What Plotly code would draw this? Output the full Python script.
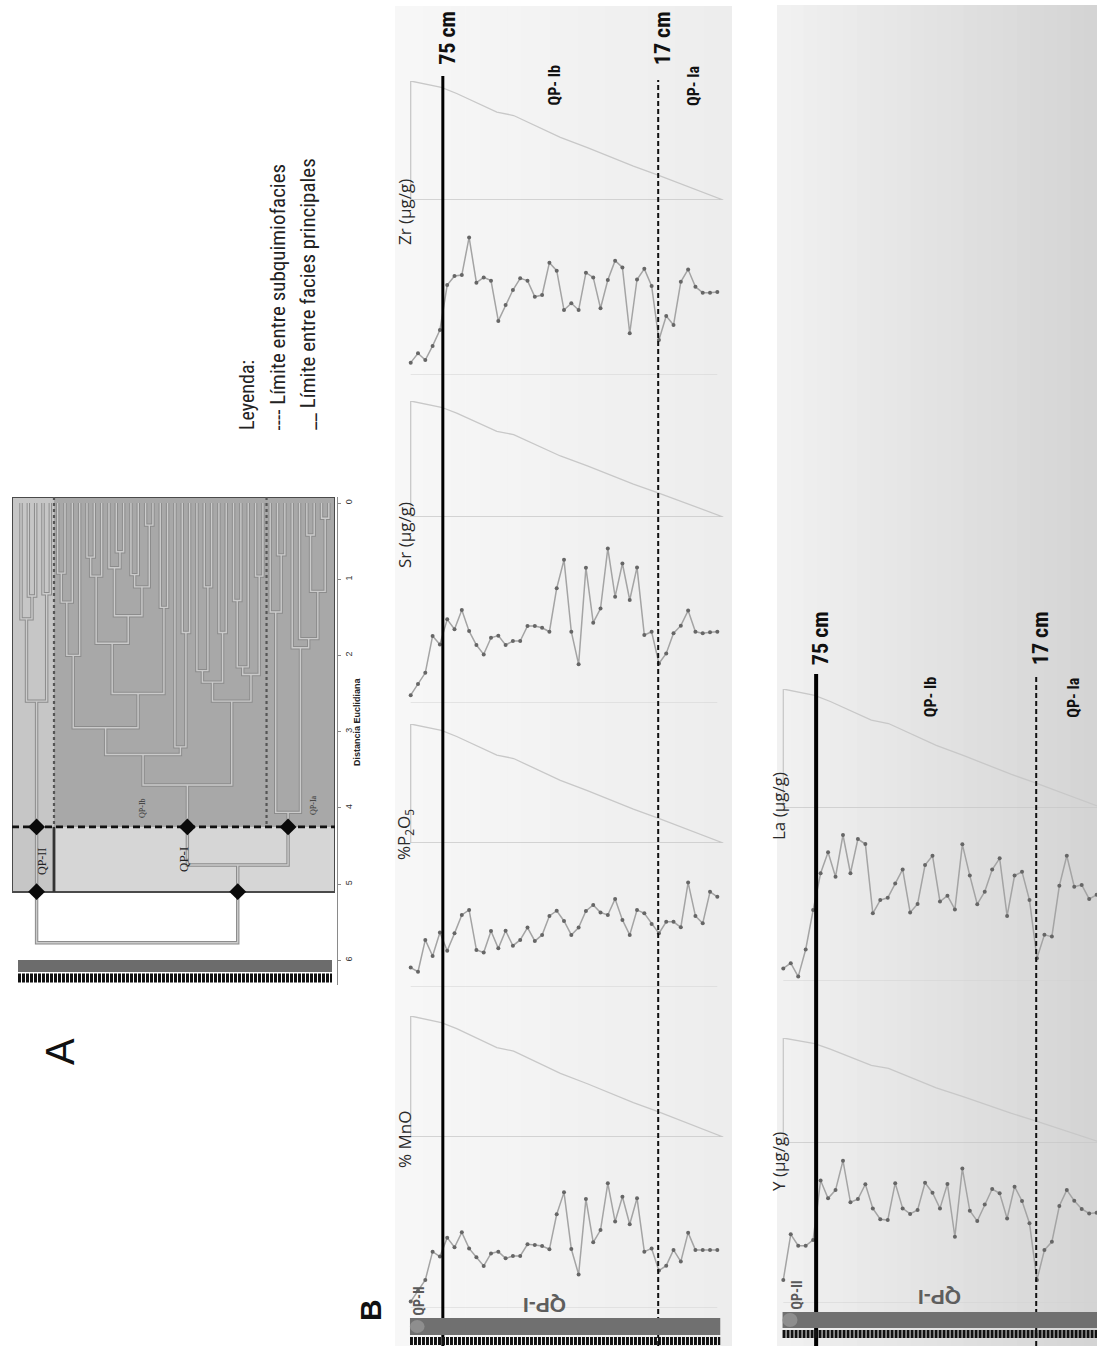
import plotly.graph_objects as go

W, H = 1097, 1348

# ----------------------------- data -----------------------------
sample = list(range(43))   # sample order along the core (base -> top)

zr = [4.2, 7.4, 5.1, 9.9, 15.3, 30.6, 33.7, 34.0, 46.8, 31.4, 33.2, 32.1, 18.4, 23.8, 28.9,
      32.9, 32.1, 26.6, 27.2, 38.2, 35.5, 22.1, 24.4, 22.1, 34.8, 33.2, 22.7, 32.3, 38.9, 36.6,
      14.2, 32.5, 36.1, 30.3, 11.9, 20.1, 17.0, 31.7, 35.9, 30.0, 28.0, 28.0, 28.2]
sr = [2.6, 6.3, 10.0, 22.2, 19.4, 27.7, 24.4, 30.8, 23.8, 19.2, 16.1, 21.6, 22.3, 19.2, 20.5,
      20.5, 25.5, 25.5, 24.9, 23.6, 38.0, 47.4, 23.6, 12.8, 44.8, 26.6, 31.3, 51.2, 35.2, 46.2,
      34.1, 44.9, 22.5, 23.6, 13.1, 16.4, 23.1, 25.6, 30.6, 23.6, 23.1, 23.4, 23.6]
p2o5 = [7.4, 5.8, 17.9, 11.8, 20.7, 13.8, 20.4, 27.4, 29.3, 14.1, 13.1, 21.3, 14.7, 21.4, 15.7,
        17.9, 22.6, 17.5, 19.8, 27.0, 29.0, 25.1, 19.8, 22.6, 28.9, 31.2, 28.3, 27.4, 33.5, 25.5,
        19.8, 29.3, 28.0, 24.0, 20.4, 24.8, 24.8, 22.7, 39.7, 27.0, 24.2, 36.2, 34.3]
mno = [2.2, 5.9, 9.6, 19.3, 17.6, 24.1, 20.8, 25.9, 20.4, 17.4, 14.4, 18.7, 19.3, 17.0, 17.8,
       17.8, 21.8, 21.6, 21.2, 20.1, 32.1, 39.6, 20.2, 11.5, 37.3, 22.5, 26.7, 42.7, 29.6, 38.1,
       28.7, 37.6, 19.3, 20.4, 12.8, 14.5, 19.9, 15.9, 25.8, 19.9, 19.9, 19.9, 19.9]
la = [4.3, 6.1, 1.5, 10.8, 24.3, 36.9, 44.1, 35.7, 50.0, 36.9, 48.6, 46.9, 23.2, 27.7, 28.5,
      33.4, 38.2, 23.5, 26.4, 39.7, 42.9, 27.2, 29.2, 24.5, 46.8, 36.1, 26.3, 30.6, 38.2, 42.0,
      22.3, 36.1, 37.4, 27.7, 7.8, 15.8, 15.2, 32.6, 42.9, 32.3, 32.9, 28.1, 29.5]
yv = [8.7, 25.9, 21.6, 21.6, 23.8, 46.2, 39.5, 42.6, 53.7, 38.0, 39.2, 44.8, 35.7, 31.6, 31.3,
      45.2, 35.7, 33.6, 35.1, 45.4, 41.6, 35.7, 44.9, 25.0, 50.8, 34.8, 30.9, 37.2, 43.0, 41.4,
      31.9, 43.9, 38.5, 30.1, 8.7, 20.0, 23.1, 36.6, 42.6, 38.6, 35.5, 33.8, 34.1]

# diagonal guide drawn above every profile (position along core, relative level 0-1)
guide_pos = [0, 0, 4.2, 6.3, 11.8, 14.1, 20.5, 24.2, 30.5, 33.7, 42.8, 0]
guide_frac = [0, 1, 0.946, 0.895, 0.739, 0.71, 0.526, 0.44, 0.284, 0.213, 0, 0]

boundary_pos = [4.4, 33.9]
boundary_labels = ["75 cm", "17 cm"]
subfacies_pos = [19.7, 38.8]
subfacies_labels = ["QP- Ib", "QP- Ia"]

# dendrogram linkage (child a, child b, Euclidean distance); new clusters numbered from 43
linkage = [
    (1, 2, 1.22), (0, 43, 1.52), (3, 4, 1.19), (44, 45, 2.60),
    (5, 6, 0.92), (47, 7, 1.30), (48, 8, 2.00),
    (9, 10, 0.71), (50, 11, 0.96), (13, 14, 0.64), (12, 52, 0.85),
    (15, 16, 0.94), (17, 18, 0.29), (54, 55, 1.10), (53, 56, 1.48),
    (51, 57, 1.84), (19, 20, 1.37), (58, 59, 2.50), (49, 60, 2.95),
    (22, 23, 1.70), (21, 62, 3.20), (61, 63, 3.30),
    (25, 26, 1.10), (24, 65, 2.20), (27, 28, 1.70), (66, 67, 2.35),
    (29, 30, 1.28), (69, 31, 2.15), (32, 33, 0.96), (70, 71, 2.25),
    (68, 72, 2.60), (64, 73, 3.70),
    (35, 36, 0.68), (34, 75, 1.43), (39, 40, 0.42), (41, 42, 0.20),
    (77, 78, 1.16), (38, 79, 1.78), (37, 80, 1.90), (76, 81, 4.06),
    (74, 82, 4.75), (46, 83, 5.77),
]
sub_cut, main_cut = 4.25, 5.10
sub_cut_clusters = [46, 74, 82]
main_cut_clusters = [46, 83]
facies_split = [4.5, 33.5]
dist_ticks = [0, 1, 2, 3, 4, 5, 6]

# ----------------------------- helpers -----------------------------
def PX(px):
    return px / W


def PY(py):
    return 1 - py / H


NARROW = "Liberation Sans Narrow, Arial Narrow, Roboto Condensed, Liberation Sans, sans-serif"
SANS = "Open Sans, Liberation Sans, sans-serif"
ARIAL = "Liberation Sans, Arial, sans-serif"

fig = go.Figure()
shapes = []
annotations = []
layout = dict(width=W, height=H, margin=dict(l=0, r=0, t=0, b=0, pad=0),
              paper_bgcolor="white", plot_bgcolor="rgba(0,0,0,0)", showlegend=False)

hidden = dict(visible=False, fixedrange=True, showgrid=False, zeroline=False)


def ann(text, x, y, size, color="#222", angle=-90, family=ARIAL, xref="paper", yref="paper",
        xanchor="center", yanchor="middle", xshift=0):
    annotations.append(dict(text=text, x=PX(x) if xref == "paper" else x,
                            y=PY(y) if yref == "paper" else y, xref=xref, yref=yref,
                            showarrow=False, textangle=angle, xanchor=xanchor, yanchor=yanchor,
                            xshift=xshift, font=dict(size=size, color=color, family=family)))


def strips(x0, x1, y0, y1, c0, c1, n=24):
    for i in range(n):
        a = x0 + (x1 - x0) * i / n
        b = x0 + (x1 - x0) * (i + 1) / n + 0.6
        t = i / (n - 1)
        g = round(c0 + (c1 - c0) * t)
        shapes.append(dict(type="rect", xref="paper", yref="paper", x0=PX(a), x1=PX(min(b, x1)),
                           y0=PY(y1), y1=PY(y0), fillcolor=f"rgb({g},{g},{g})",
                           line=dict(width=0), layer="below"))


# ----------------------------- backgrounds -----------------------------
strips(395, 732, 6, 1346, 247, 237)
strips(777, 1097, 5, 1346, 241, 212)

# ----------------------------- axes -----------------------------
layout["xaxis"] = dict(domain=[PX(395), PX(732)], range=[-2.151, 44.01], anchor="y2", **hidden)
layout["xaxis2"] = dict(domain=[PX(777), PX(1097)], range=[-0.845, 42.05], anchor="y10", **hidden)
layout["xaxis3"] = dict(domain=[PX(12), PX(335)], range=[-1.23, 42.84], anchor="y", **hidden)
layout["yaxis"] = dict(domain=[PY(985), PY(497)], range=[6.325, -0.079], anchor="free",
                       position=PX(337), side="right", showline=True, linecolor="#8a8a8a",
                       linewidth=1, ticks="outside", ticklen=3, tickcolor="#8a8a8a",
                       tickvals=dist_ticks, tickangle=-90, showgrid=False, zeroline=False,
                       tickfont=dict(size=9, color="#333", family=ARIAL), fixedrange=True)

top_panels = [("Zr (µg/g)", zr, 81, 200, 375, 212),
              ("Sr (µg/g)", sr, 401, 517, 703, 535),
              ("%P<sub>2</sub>O<sub>5</sub>", p2o5, 724, 843, 987, 835),
              ("% MnO", mno, 1016, 1137, 1308, 1140)]
bot_panels = [("La (µg/g)", la, 689, 808, 981, 806),
              ("Y (µg/g)", yv, 1038, 1143, 1303, 1162)]

n_ax = 2
for group, xname, title_x in ((top_panels, "x", 404), (bot_panels, "x2", 778)):
    for title, vals, top, hl, base, ty in group:
        yd, yt = n_ax, n_ax + 1
        n_ax += 2
        layout[f"yaxis{yd}"] = dict(domain=[PY(base), PY(top)], range=[0, 100], anchor=xname, **hidden)
        layout[f"yaxis{yt}"] = dict(domain=[PY(hl), PY(top)], range=[0, 1], anchor=xname, **hidden)
        fig.add_trace(go.Scatter(x=guide_pos, y=guide_frac, xaxis=xname, yaxis=f"y{yt}",
                                 mode="lines", line=dict(color="#c8c8c8", width=1.3),
                                 hoverinfo="skip"))
        fig.add_trace(go.Scatter(x=sample, y=vals, xaxis=xname, yaxis=f"y{yd}",
                                 mode="lines+markers", line=dict(color="#a4a4a4", width=1.5),
                                 marker=dict(size=4, color="#666666")))
        shapes.append(dict(type="line", xref=xname, yref=f"y{yd}", x0=sample[0], x1=sample[-1],
                           y0=0, y1=0, line=dict(color="#d2d2d2", width=1.2), layer="below"))
        ann(title, title_x, ty, 17, color="#2a2a2a", family=SANS)

# ----------------------------- boundaries -----------------------------
for xname, y_top_solid, y_top_dash, y_lab, y_sub, wsolid in (("x", 76, 80, 38, 85, 3),
                                                              ("x2", 674, 677, 638, 697, 4)):
    shapes.append(dict(type="line", xref=xname, yref="paper", x0=boundary_pos[0], x1=boundary_pos[0],
                       y0=PY(1346), y1=PY(y_top_solid), line=dict(color="black", width=wsolid),
                       layer="above"))
    shapes.append(dict(type="line", xref=xname, yref="paper", x0=boundary_pos[1], x1=boundary_pos[1],
                       y0=PY(1346), y1=PY(y_top_dash),
                       line=dict(color="#111", width=2, dash="5px,3px"), layer="above"))
    for p, lab in zip(boundary_pos, boundary_labels):
        ann(f"<b>{lab}</b>", p, y_lab, 22, color="#111", family=NARROW, xref=xname, xshift=4)
    for p, lab in zip(subfacies_pos, subfacies_labels):
        ann(f"<b>{lab}</b>", p, y_sub, 16, color="#111", family=NARROW, xref=xname)

# ----------------------------- core bars -----------------------------
def core_bar(xref, x0, x1, y0, y1, ydot, lw=8):
    shapes.append(dict(type="rect", xref=xref, yref="paper", x0=x0, x1=x1, y0=PY(y1), y1=PY(y0),
                       fillcolor="#707070", line=dict(width=0), layer="above"))
    shapes.append(dict(type="line", xref=xref, yref="paper", x0=x0, x1=x1, y0=PY(ydot), y1=PY(ydot),
                       line=dict(color="#111", width=lw, dash="3px,1px"), layer="above"))


core_bar("x", -0.1, 42.4, 1318, 1335, 1341)
shapes.append(dict(type="circle", xref="x", yref="paper", x0=-0.1, x1=1.9, y0=PY(1333), y1=PY(1320),
                   fillcolor="#8e8e8e", line=dict(width=0), layer="above"))
core_bar("x2", -0.1, 42.05, 1312, 1328, 1334)
shapes.append(dict(type="circle", xref="x2", yref="paper", x0=-0.1, x1=1.9, y0=PY(1327), y1=PY(1313),
                   fillcolor="#8e8e8e", line=dict(width=0), layer="above"))
shapes.append(dict(type="rect", xref="paper", yref="paper", x0=PX(18), x1=PX(332), y0=PY(972),
                   y1=PY(960), fillcolor="#6c6c6c", line=dict(width=0), layer="above"))
shapes.append(dict(type="line", xref="paper", yref="paper", x0=PX(18), x1=PX(332), y0=PY(978),
                   y1=PY(978), line=dict(color="#111", width=9, dash="3px,1px"), layer="above"))

# facies labels at the base of the profiles
ann("<b>QP-II</b>", 418, 1318, 14, color="#5a5a5a", family=NARROW, yanchor="bottom")
ann("<b>QP-I</b>", 545, 1306, 21, color="#5e5e5e", angle=180, family=ARIAL)
ann("<b>QP-II</b>", 796, 1312, 14, color="#5a5a5a", family=NARROW, yanchor="bottom")
ann("<b>QP-I</b>", 940, 1298, 21, color="#5e5e5e", angle=180, family=ARIAL)

# ----------------------------- dendrogram (panel A) -----------------------------
DX, DY = "x3", "y"
top_d, bot_d = -0.079, 5.105
xl, xr = -1.23, 42.84
shapes += [
    dict(type="rect", xref=DX, yref=DY, x0=xl, x1=facies_split[0], y0=top_d, y1=bot_d,
         fillcolor="#c6c6c6", line=dict(width=0), layer="below"),
    dict(type="rect", xref=DX, yref=DY, x0=facies_split[0], x1=xr, y0=top_d, y1=sub_cut,
         fillcolor="#a8a8a8", line=dict(width=0), layer="below"),
    dict(type="rect", xref=DX, yref=DY, x0=facies_split[0], x1=xr, y0=sub_cut, y1=bot_d,
         fillcolor="#d6d6d6", line=dict(width=0), layer="below"),
    dict(type="rect", xref=DX, yref=DY, x0=xl, x1=xr, y0=top_d, y1=bot_d,
         fillcolor="rgba(0,0,0,0)", line=dict(color="#4a4a4a", width=2), layer="below"),
]
for xs in facies_split:
    shapes.append(dict(type="line", xref=DX, yref=DY, x0=xs, x1=xs, y0=top_d, y1=sub_cut,
                       line=dict(color="#555", width=2.2, dash="dot"), layer="below"))
shapes.append(dict(type="line", xref=DX, yref=DY, x0=facies_split[0], x1=facies_split[0],
                   y0=sub_cut, y1=bot_d, line=dict(color="#333", width=2.8), layer="below"))
shapes.append(dict(type="line", xref=DX, yref=DY, x0=xl, x1=xr, y0=sub_cut, y1=sub_cut,
                   line=dict(color="#111", width=2.8, dash="7px,4px"), layer="below"))

pos = {i: float(i) for i in range(43)}
hgt = {i: 0.0 for i in range(43)}
lx, ly = [], []
for k, (a, b, h) in enumerate(linkage):
    cid = 43 + k
    lx += [pos[a], pos[a], pos[b], pos[b], None]
    ly += [hgt[a], h, h, hgt[b], None]
    pos[cid] = (pos[a] + pos[b]) / 2
    hgt[cid] = h

fig.add_trace(go.Scatter(x=lx, y=ly, xaxis=DX, yaxis=DY, mode="lines",
                         line=dict(color="#8c8c8c", width=3.4), hoverinfo="skip"))
fig.add_trace(go.Scatter(x=lx, y=ly, xaxis=DX, yaxis=DY, mode="lines",
                         line=dict(color="#cbcbcb", width=1.4), hoverinfo="skip"))
fig.add_trace(go.Scatter(x=[pos[c] for c in sub_cut_clusters] + [pos[c] for c in main_cut_clusters],
                         y=[sub_cut] * len(sub_cut_clusters) + [main_cut] * len(main_cut_clusters),
                         xaxis=DX, yaxis=DY, mode="markers",
                         marker=dict(symbol="diamond", size=13, color="#0a0a0a")))

ann("QP-II", 42, 862, 12, color="#222", family="Liberation Serif, serif")
ann("QP-I", 183, 860, 13, color="#222", family="Liberation Serif, serif")
ann("QP-Ib", 142, 808, 8, color="#333", family="Liberation Serif, serif")
ann("QP-Ia", 313, 805, 8, color="#333", family="Liberation Serif, serif")
ann("<b>Distancia Euclidiana</b>", 357, 722, 9, color="#222", family=ARIAL)

# legend text of panel A
ann("Leyenda:", 247, 432, 20, color="#222", family=NARROW, yanchor="bottom")
ann("---- Límite entre subquimiofacies", 278, 432, 21, color="#222", family=NARROW, yanchor="bottom")
ann("__ Límite entre facies principales", 308, 432, 21, color="#222", family=NARROW, yanchor="bottom")

# panel letters
ann("A", 60, 1052, 40, color="#111", family=ARIAL)
ann("<b>B</b>", 370, 1310, 30, color="#111", family=ARIAL)

layout["shapes"] = shapes
layout["annotations"] = annotations
fig.update_layout(**layout)

fig.write_html("out.html", config={"displayModeBar": False, "staticPlot": True},
               post_script="document.body.style.margin='0px';document.body.style.overflow='hidden';")
